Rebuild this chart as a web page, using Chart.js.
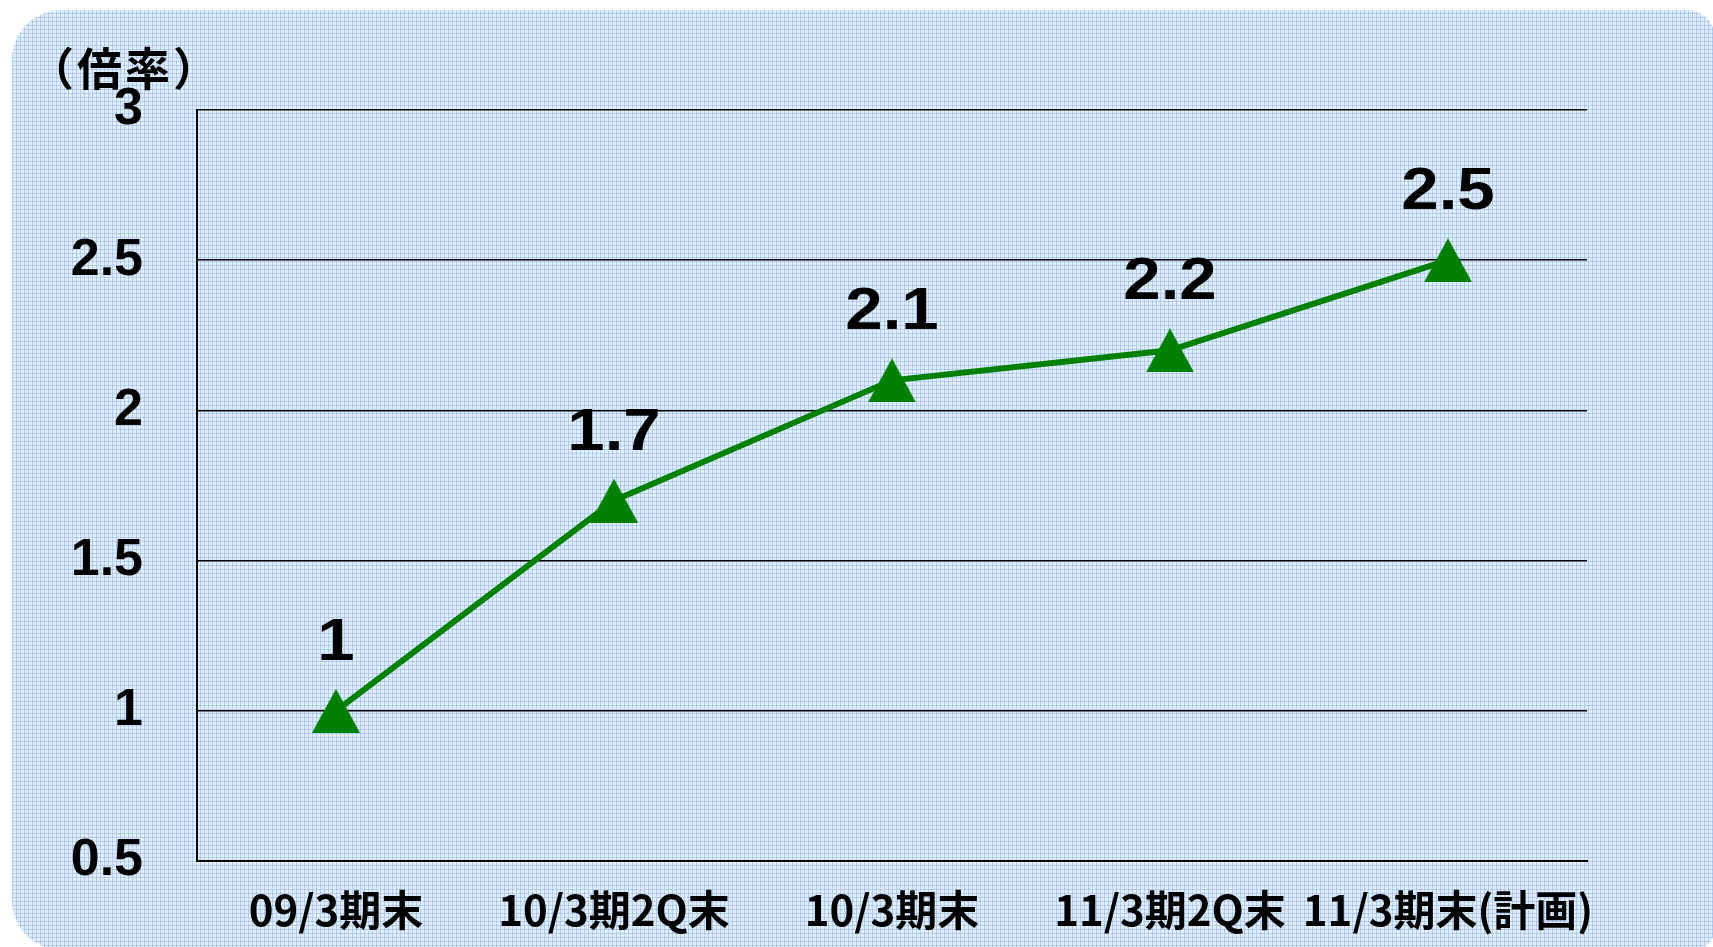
<!DOCTYPE html>
<html>
<head>
<meta charset="utf-8">
<script src="https://cdn.jsdelivr.net/npm/chart.js"></script>
<style>
  html, body { margin: 0; padding: 0; background: #fff; overflow: hidden; }
  #bg {
    position: absolute; left: 12px; top: 10px; width: 1703px; height: 940px;
    border-radius: 50px 28px 22px 50px;
    background-color: #e4eefa;
    background-image:
      repeating-linear-gradient(0deg, rgba(130, 178, 232, 0.5) 0 1px, transparent 1px 4px),
      repeating-linear-gradient(90deg, rgba(130, 178, 232, 0.5) 0 1px, transparent 1px 4px);
  }
  #rateChart { position: absolute; left: 0; top: 0; }
</style>
</head>
<body>
<div id="bg"></div>
<canvas id="rateChart" width="1713" height="947"></canvas>
<script>
// データ
const periods = ['09/3期末', '10/3期2Q末', '10/3期末', '11/3期2Q末', '11/3期末(計画)'];
const rates = [1, 1.7, 2.1, 2.2, 2.5];
const yTickLabels = ['0.5', '1', '1.5', '2', '2.5', '3'];
const yTitle = '（倍率）';

const green = '#008000';

// 三角マーカー
const tri = document.createElement('canvas');
tri.width = 48;
tri.height = 44;
const tctx = tri.getContext('2d');
tctx.fillStyle = green;
tctx.beginPath();
tctx.moveTo(24, 0);
tctx.lineTo(48, 44);
tctx.lineTo(0, 44);
tctx.closePath();
tctx.fill();

// 値ラベルと軸タイトル
const labelPlugin = {
  id: 'labels',
  afterDatasetsDraw(chart) {
    const ctx = chart.ctx;
    const meta = chart.getDatasetMeta(0);
    ctx.save();
    ctx.fillStyle = '#000';
    ctx.font = 'bold 60px "Liberation Sans", Arial, sans-serif';
    ctx.textAlign = 'center';
    ctx.textBaseline = 'alphabetic';
    meta.data.forEach((pt, i) => {
      ctx.save();
      ctx.translate(pt.x, pt.y - 51);
      ctx.scale(1.12, 1);
      ctx.fillText(String(rates[i]), 0, 0);
      ctx.restore();
    });
    const area = chart.chartArea;
    ctx.font = 'bold 45px "Noto Sans CJK JP", sans-serif';
    ctx.letterSpacing = '3px';
    ctx.textBaseline = 'middle';
    ctx.fillText(yTitle, area.left - 72, area.top - 41);
    ctx.restore();
  }
};

new Chart(document.getElementById('rateChart'), {
  type: 'line',
  data: {
    labels: periods,
    datasets: [{
      data: rates,
      borderColor: green,
      backgroundColor: green,
      borderWidth: 6,
      tension: 0,
      pointStyle: tri,
      pointRadius: 24,
      pointHoverRadius: 24
    }]
  },
  options: {
    responsive: false,
    animation: false,
    layout: { padding: { left: 0, top: 110, right: 126, bottom: 0 } },
    plugins: {
      legend: { display: false },
      tooltip: { enabled: false }
    },
    scales: {
      x: {
        offset: true,
        grid: { display: false, drawTicks: false },
        border: { display: true, color: '#000', width: 2 },
        ticks: {
          color: '#000',
          padding: 24,
          maxRotation: 0,
          autoSkip: false,
          font: { family: '"Noto Sans CJK JP", sans-serif', size: 42, weight: 'bold' }
        },
        afterFit: (scale) => { scale.height = 86; }
      },
      y: {
        min: 0.5,
        max: 3,
        grid: { color: '#000', lineWidth: 1.5, drawTicks: false },
        border: { display: true, color: '#000', width: 2 },
        ticks: {
          stepSize: 0.5,
          color: '#000',
          padding: 54,
          font: { family: '"Liberation Sans", Arial, sans-serif', size: 52, weight: 'bold' },
          callback: (value, index) => yTickLabels[index]
        },
        afterFit: (scale) => { scale.width = 197; }
      }
    }
  },
  plugins: [labelPlugin]
});
</script>
</body>
</html>
